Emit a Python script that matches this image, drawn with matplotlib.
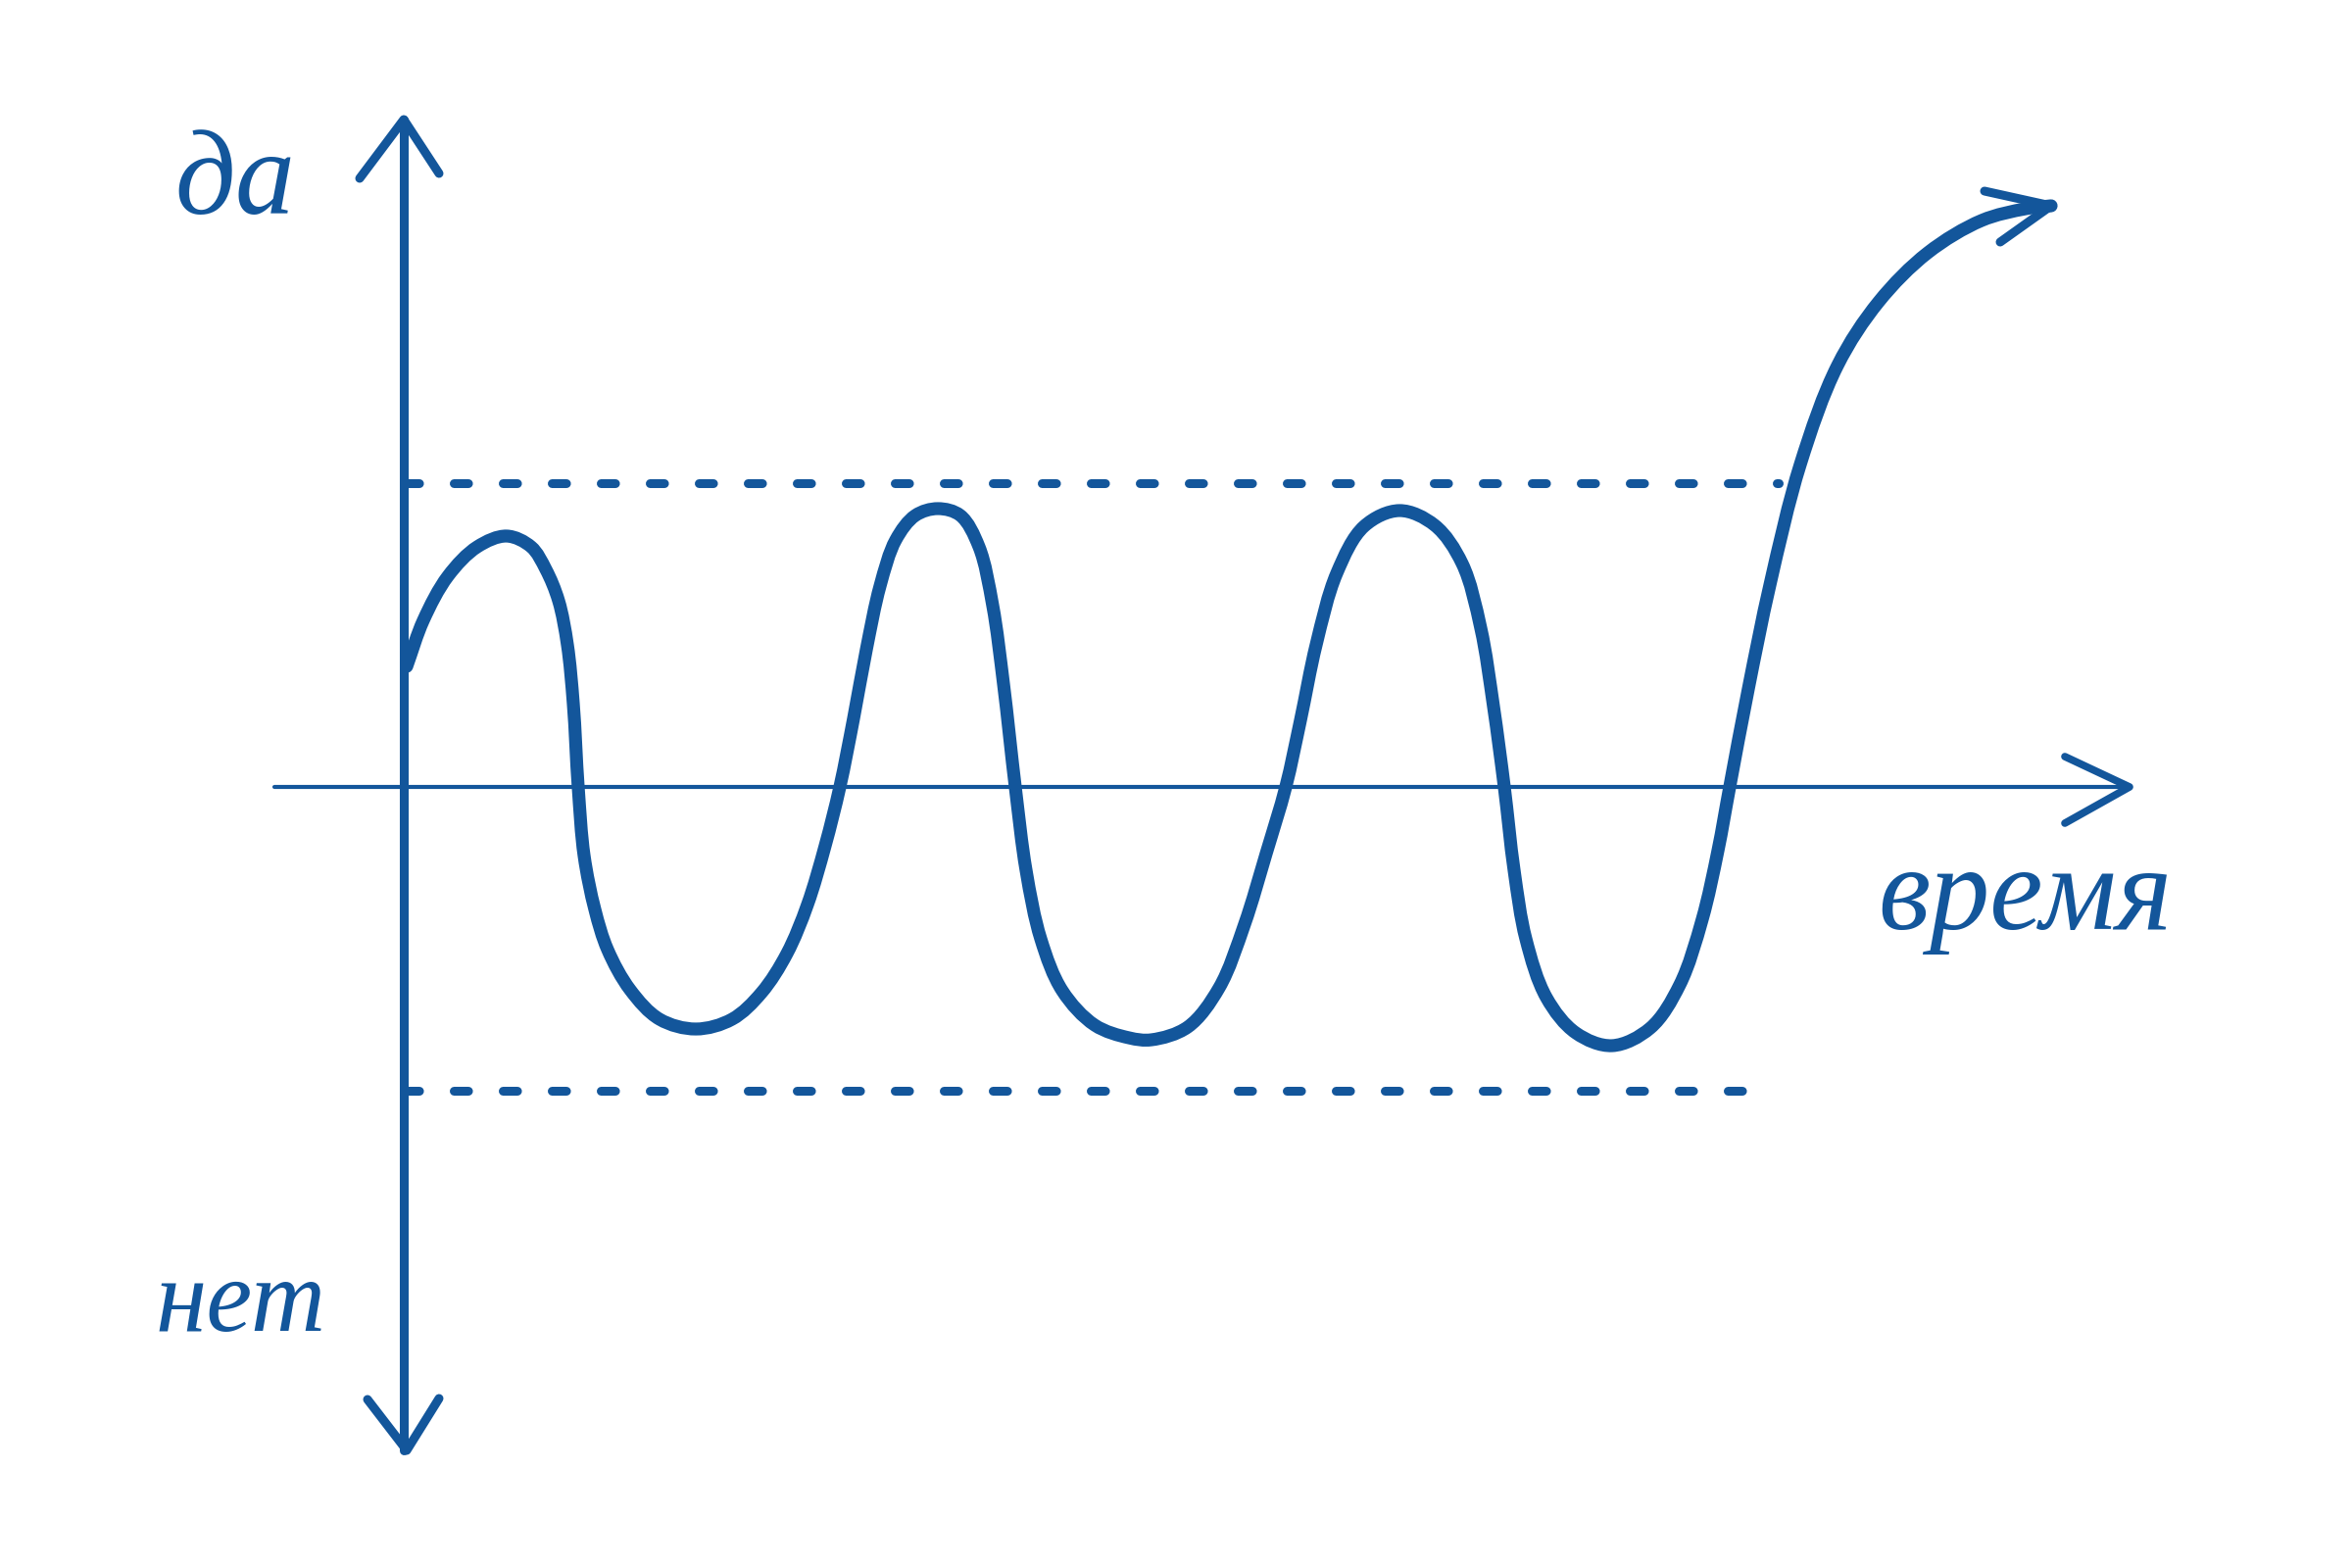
import numpy as np
import matplotlib
matplotlib.use("Agg")
import matplotlib.pyplot as plt
from matplotlib.path import Path
from matplotlib.patches import PathPatch

plt.rcParams['lines.scale_dashes'] = False

BLUE = '#13569b'

# mood curve: time vs "yes/no" level
t = [0.03, 0.20, 0.45, 0.75, 1.05, 1.30, 1.45, 1.58, 1.67, 1.73, 1.78,
     1.84, 1.95, 2.08, 2.31, 2.61, 2.98, 3.35, 3.65, 3.91,
     4.12, 4.30, 4.45, 4.59, 4.72, 4.86, 5.02, 5.22, 5.45,
     5.68, 5.87, 6.01, 6.12, 6.24, 6.35, 6.50, 6.72, 7.05, 7.40, 7.63,
     8.00, 8.32, 8.58, 8.80, 9.00, 9.15, 9.31, 9.52, 9.80, 10.16,
     10.52, 10.80, 10.99, 11.12, 11.23, 11.33, 11.45, 11.66, 11.96, 12.33,
     12.72, 13.02, 13.25, 13.41, 13.53, 13.72, 13.94, 14.25, 14.63, 15.05,
     15.55, 16.10, 16.55, 16.81]
v = [1.23, 1.70, 2.15, 2.45, 2.56, 2.45, 2.22, 1.90, 1.45, 0.85, 0.00,
     -0.70, -1.25, -1.66, -2.07, -2.37, -2.47, -2.37, -2.10, -1.70,
     -1.20, -0.60, 0.00, 0.70, 1.40, 2.05, 2.52, 2.77, 2.84,
     2.77, 2.45, 1.85, 1.05, 0.00, -0.85, -1.55, -2.08, -2.43, -2.56, -2.58,
     -2.45, -2.05, -1.40, -0.68, 0.00, 0.68, 1.45, 2.18, 2.66, 2.82,
     2.67, 2.28, 1.62, 0.82, 0.00, -0.85, -1.55, -2.15, -2.51, -2.64,
     -2.46, -2.02, -1.35, -0.65, 0.00, 1.00, 2.06, 3.29, 4.30, 4.95,
     5.45, 5.78, 5.90, 5.93]

upper_level = 3.10
lower_level = -3.10
upper_end = 14.03
lower_end = 13.70

x_axis = [-1.32, 17.61]
y_axis = [-6.77, 6.81]

# arrow heads: tip, barb, barb
head_up = [(0.0, 6.81), (-0.45, 6.21), (0.36, 6.26)]
head_down = [(0.03, -6.77), (-0.37, -6.25), (0.36, -6.24)]
head_right = [(17.61, 0.0), (16.95, 0.31), (16.95, -0.37)]
head_curve = [(16.81, 5.93), (16.13, 6.08), (16.29, 5.56)]

label_yes = 'да'
label_no = 'нет'
label_time = 'время'

fig = plt.figure(figsize=(24, 16), dpi=100)
ax = fig.add_axes([0, 0, 1, 1])
ax.set_xlim(-4.12, 19.88)
ax.set_ylim(-7.97, 8.03)
ax.axis('off')

# axes of the sketch
ax.plot(x_axis, [0, 0], color=BLUE, lw=3, solid_capstyle='round')
ax.plot([0, 0], y_axis, color=BLUE, lw=6.5, solid_capstyle='round')


def head(pts, lw):
    tip, a, b = pts
    ax.plot([a[0], tip[0], b[0]], [a[1], tip[1], b[1]], color=BLUE, lw=lw,
            solid_capstyle='round', solid_joinstyle='round')


head(head_up, 6.5)
head(head_down, 6.5)
head(head_right, 5.5)
head(head_curve, 6.5)

# dashed limits
ax.plot([0.01, upper_end], [upper_level, upper_level], color=BLUE, lw=6.5,
        dashes=(10.5, 25.5), dash_capstyle='round')
ax.plot([0.01, lower_end], [lower_level, lower_level], color=BLUE, lw=6.5,
        dashes=(10.5, 25.5), dash_capstyle='round')

# smooth curve through the read points (centripetal Catmull-Rom -> bezier)
P = np.column_stack([t, v])
P = np.vstack([2 * P[0] - P[1], P, 2 * P[-1] - P[-2]])
verts = [P[1]]
codes = [Path.MOVETO]
for i in range(1, len(P) - 2):
    p0, p1, p2, p3 = P[i - 1], P[i], P[i + 1], P[i + 2]
    d01 = np.linalg.norm(p1 - p0) ** 0.5
    d12 = np.linalg.norm(p2 - p1) ** 0.5
    d23 = np.linalg.norm(p3 - p2) ** 0.5
    m1 = d12 * ((p1 - p0) / d01 - (p2 - p0) / (d01 + d12) + (p2 - p1) / d12)
    m2 = d12 * ((p2 - p1) / d12 - (p3 - p1) / (d12 + d23) + (p3 - p2) / d23)
    verts += [p1 + m1 / 3, p2 - m2 / 3, p2]
    codes += [Path.CURVE4] * 3
ax.add_patch(PathPatch(Path(verts, codes), fill=False, edgecolor=BLUE,
                       lw=9.5, capstyle='round', joinstyle='round'))

font = dict(family='Liberation Serif', style='italic', color=BLUE,
            ha='center', va='center')
ax.text(-1.72, 6.15, label_yes, fontsize=88, **font)
ax.text(-1.67, -5.30, label_no, fontsize=76, **font)
ax.text(16.54, -1.15, label_time, fontsize=88, **font)

fig.savefig('out.png', dpi=100)
